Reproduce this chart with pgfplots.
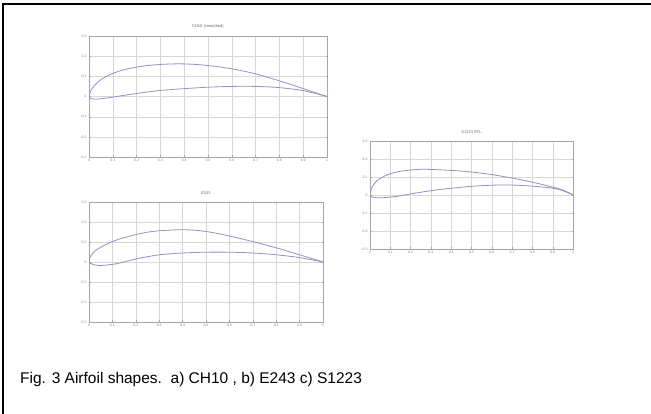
\documentclass[border=0pt]{standalone}
\usepackage{fontspec}
\setmainfont{Liberation Sans}
\usepackage{pgfplots}
\pgfplotsset{compat=1.18}
\definecolor{foil}{RGB}{145,145,195}
\definecolor{gridg}{RGB}{215,215,215}

\pgfplotsset{
  foilaxis/.style={
    scale only axis, anchor=south west,
    xmin=0, xmax=1, ymin=-0.3, ymax=0.3,
    xtick={0,0.1,...,1}, ytick={-0.3,-0.2,...,0.3},
    grid=major, grid style={gridg, line width=0.3pt},
    axis line style={gray!70, line width=0.3pt},
    tick style={gray!70, line width=0.3pt}, major tick length=1.5pt,
    tick label style={font=\fontsize{3.5}{4}\selectfont, text=gray},
    /pgf/number format/assume math mode=true,
    /pgf/number format/fixed,
    xticklabel shift=-1pt, yticklabel shift=-1pt,
    title style={font=\fontsize{4}{5}\selectfont, text=gray!80!black, yshift=-2pt},
  },
  foilline/.style={foil, line width=0.8pt, smooth, tension=0.5, no marks},
}

\begin{document}
\begin{tikzpicture}
\useasboundingbox (0pt,0pt) rectangle (651pt,414pt);
\fill[white] (0pt,0pt) rectangle (651pt,414pt);
% frame
\draw[line width=1.6pt] (3pt,0pt) -- (3pt,410pt) -- (651pt,410pt);

% a) CH10
\begin{axis}[foilaxis, at={(89pt,257pt)}, width=238pt, height=121pt, title={CH10 (smoothed)}]
\addplot[foilline] coordinates {
 (0,0) (0.005,0.022) (0.015,0.043) (0.03,0.063) (0.05,0.083) (0.08,0.104)
 (0.12,0.123) (0.17,0.139) (0.23,0.151) (0.30,0.159) (0.38,0.162) (0.46,0.158)
 (0.54,0.148) (0.62,0.133) (0.70,0.112) (0.78,0.085) (0.86,0.055) (0.93,0.027) (1,0)};
\addplot[foilline] coordinates {
 (0,0) (0.005,-0.008) (0.015,-0.012) (0.03,-0.013) (0.06,-0.01) (0.10,-0.003)
 (0.16,0.008) (0.23,0.02) (0.30,0.03) (0.40,0.039) (0.50,0.046) (0.60,0.05)
 (0.70,0.05) (0.80,0.044) (0.90,0.029) (1,0)};
\end{axis}

% b) E243
\begin{axis}[foilaxis, at={(89pt,92pt)}, width=234pt, height=120pt, title={E243}]
\addplot[foilline] coordinates {
 (0,0.005) (0.005,0.025) (0.017,0.045) (0.035,0.063) (0.06,0.08) (0.09,0.097)
 (0.13,0.115) (0.20,0.137) (0.25,0.149) (0.30,0.156) (0.38,0.161) (0.45,0.159)
 (0.52,0.149) (0.60,0.13) (0.70,0.102) (0.80,0.071) (0.90,0.036) (1,0)};
\addplot[foilline] coordinates {
 (0,0.005) (0.005,-0.006) (0.017,-0.012) (0.04,-0.017) (0.07,-0.016) (0.12,-0.008)
 (0.20,0.015) (0.30,0.036) (0.40,0.045) (0.50,0.049) (0.60,0.049) (0.70,0.045)
 (0.80,0.036) (0.90,0.022) (1,0)};
\end{axis}

% c) S1223
\begin{axis}[foilaxis, at={(370pt,165pt)}, width=203pt, height=108pt, title={S1223 RTL}]
\addplot[foilline] coordinates {
 (0,0.005) (0.005,0.03) (0.016,0.055) (0.035,0.08) (0.066,0.102) (0.10,0.118)
 (0.14,0.13) (0.20,0.139) (0.26,0.143) (0.34,0.14) (0.46,0.132) (0.59,0.115)
 (0.72,0.09) (0.85,0.058) (0.95,0.027) (1,0)};
\addplot[foilline] coordinates {
 (0,0.005) (0.008,-0.01) (0.05,-0.016) (0.13,-0.008) (0.21,0.008) (0.34,0.03)
 (0.51,0.049) (0.66,0.056) (0.79,0.05) (0.92,0.034) (1,0)};
\end{axis}

% caption
\node[anchor=base west, font=\fontsize{15.5}{18}\selectfont, inner sep=0pt]
  at (20pt,30pt) {Fig. 3 Airfoil shapes.\ \ a) CH10 , b) E243 c) S1223};
\end{tikzpicture}
\end{document}
